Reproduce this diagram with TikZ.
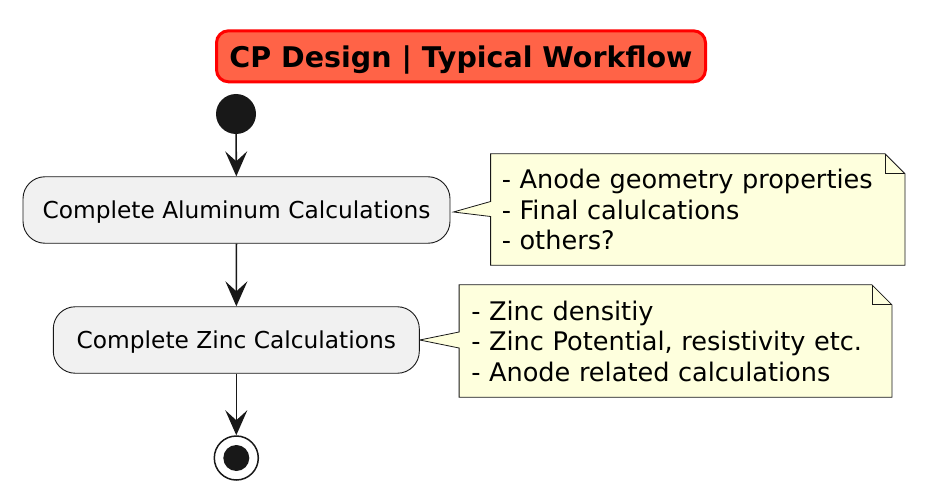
\documentclass[tikz,border=0pt]{standalone}
\usepackage{fontspec}
\setmainfont{DejaVu Sans}
\usetikzlibrary{arrows.meta,calc,backgrounds}

\definecolor{titlefill}{HTML}{FF6347}
\definecolor{titleline}{HTML}{FF0000}
\definecolor{actfill}{HTML}{F1F1F1}
\definecolor{notefill}{HTML}{FEFFDD}
\definecolor{darkline}{HTML}{181818}

\tikzset{
    activity/.style={rectangle, draw=darkline, fill=actfill, line width=0.9pt, rounded corners=22pt, minimum height=66.5pt, text depth=0pt, font=\fontsize{23.3}{27}\selectfont},
    notetext/.style={rectangle, align=left, minimum height=111pt, font=\fontsize{25.6}{30.5}\selectfont},
    notebox/.style={draw=darkline, fill=notefill, line width=0.8pt},
    flow/.style={draw=darkline, line width=1.6pt, -{Stealth[length=25pt, width=22pt, inset=10pt]}}
}

\begin{document}
\begin{tikzpicture}[x=1pt, y=-1pt]
    \useasboundingbox (0,0) rectangle (926,500);

    \node[rectangle, draw=titleline, fill=titlefill, line width=3pt, rounded corners=12pt, minimum width=489pt, minimum height=51pt, text depth=0pt, font=\bfseries\fontsize{28.5}{30}\selectfont] (title) at (461, 56.3) {CP Design | Typical Workflow};

    \node[circle, fill=darkline, minimum size=40pt, inner sep=0pt] (start) at (236, 114) {};
    \node[activity, minimum width=427pt] (alu) at (236.5, 210) {Complete Aluminum Calculations};
    \node[activity, minimum width=366pt] (zinc) at (236.3, 340) {Complete Zinc Calculations};
    \node[circle, draw=darkline, line width=1.5pt, minimum size=44pt, inner sep=0pt] (stop) at (236.3, 458) {};
    \node[circle, fill=darkline, minimum size=26pt, inner sep=0pt] (stopdot) at (stop) {};

    \node[notetext, inner xsep=11pt, text width=392pt] (alunote) at (697.8, 209.5) {- Anode geometry properties\\- Final calulcations\\- others?};
    \node[notetext, inner xsep=12pt, text width=408.4pt, minimum height=112pt] (zincnote) at (675.5, 341) {- Zinc densitiy\\- Zinc Potential, resistivity etc.\\- Anode related calculations};

    \begin{scope}[on background layer]
    \path[notebox] (alunote.north west) -- ($(alunote.north east)+(-20,0)$) -- ($(alunote.north east)+(0,20)$) -- (alunote.south east) -- (alunote.south west) -- ($(alunote.west)+(0,7)$) -- ($(alu.east)+(3,2)$) -- ($(alunote.west)+(0,-8)$) -- cycle;
    \draw[darkline, line width=0.8pt] ($(alunote.north east)+(-20,0)$) |- ($(alunote.north east)+(0,20)$);
    \path[notebox] (zincnote.north west) -- ($(zincnote.north east)+(-20,0)$) -- ($(zincnote.north east)+(0,20)$) -- (zincnote.south east) -- (zincnote.south west) -- ($(zincnote.west)+(0,7)$) -- (zinc.east) -- ($(zincnote.west)+(0,-9)$) -- cycle;
    \draw[darkline, line width=0.8pt] ($(zincnote.north east)+(-20,0)$) |- ($(zincnote.north east)+(0,20)$);
    \end{scope}

    \draw[flow] (start) -- (alu);
    \draw[flow] (alu) -- (zinc);
    \draw[flow] (zinc) -- (stop);
\end{tikzpicture}
\end{document}
